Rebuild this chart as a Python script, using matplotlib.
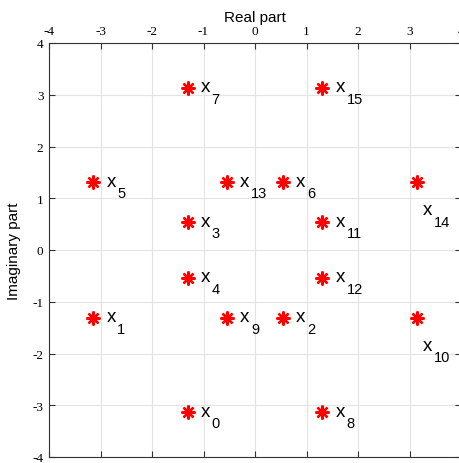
import numpy as np
import matplotlib.pyplot as plt

# constellation points (real, imag) for symbols x0..x15
re_part = [-1.31, -3.14, 0.54, -1.31, -1.31, -3.14, 0.54, -1.31,
           1.31, -0.54, 3.14, 1.31, 1.31, -0.54, 3.14, 1.31]
im_part = [-3.14, -1.31, -1.31, 0.54, -0.54, 1.31, 1.31, 3.14,
           -3.14, -1.31, -1.31, 0.54, -0.54, 1.31, 1.31, 3.14]
subs = [str(i) for i in range(16)]
ticks = [-4, -3, -2, -1, 0, 1, 2, 3, 4]

fig = plt.figure(figsize=(4.6, 4.64), dpi=100)
ax = fig.add_axes([49/460, 6/464, 412/460, 414/464])

ax.plot(re_part, im_part, linestyle='none', marker=(8, 2, 0), color='red',
        markersize=10, markeredgewidth=1.7)

px = 0.72  # pixels -> points at 100 dpi
for i, (xr, yi) in enumerate(zip(re_part, im_part)):
    if xr > 3:
        # labels near the right edge sit below the marker
        dx, dy = 6, -32
    else:
        dx, dy = 13, -3.5
    ax.annotate('x', (xr, yi), xytext=(dx*px, dy*px), textcoords='offset points',
                fontsize=13.5, family='Liberation Sans', ha='left', va='baseline')
    ax.annotate(subs[i], (xr, yi), xytext=((dx+11)*px, (dy-11.5)*px),
                textcoords='offset points', fontsize=10.5,
                family='Liberation Sans', ha='left', va='baseline')

ax.set_xlim(-4, 4)
ax.set_ylim(-4, 4)
ax.set_xticks(ticks)
ax.set_yticks(ticks)
ax.set_xticklabels([str(t) for t in ticks], family='Liberation Serif', fontsize=9.5)
ax.set_yticklabels([str(t) for t in ticks], family='Liberation Serif', fontsize=9.5)
ax.xaxis.tick_top()
ax.xaxis.set_label_position('top')
ax.tick_params(direction='in', top=True, bottom=True, left=True, right=True,
               length=4, width=0.8, color='#333333', pad=4)
ax.grid(True, color='#e3e3e3', linewidth=0.8)
ax.set_axisbelow(True)
for s in ax.spines.values():
    s.set_color('#333333')
    s.set_linewidth(0.8)

ax.set_xlabel('Real part', fontsize=11, family='Liberation Sans', labelpad=3)
ax.set_ylabel('Imaginary part', fontsize=11, family='Liberation Sans', labelpad=8)

fig.savefig('out.png', dpi=100)
